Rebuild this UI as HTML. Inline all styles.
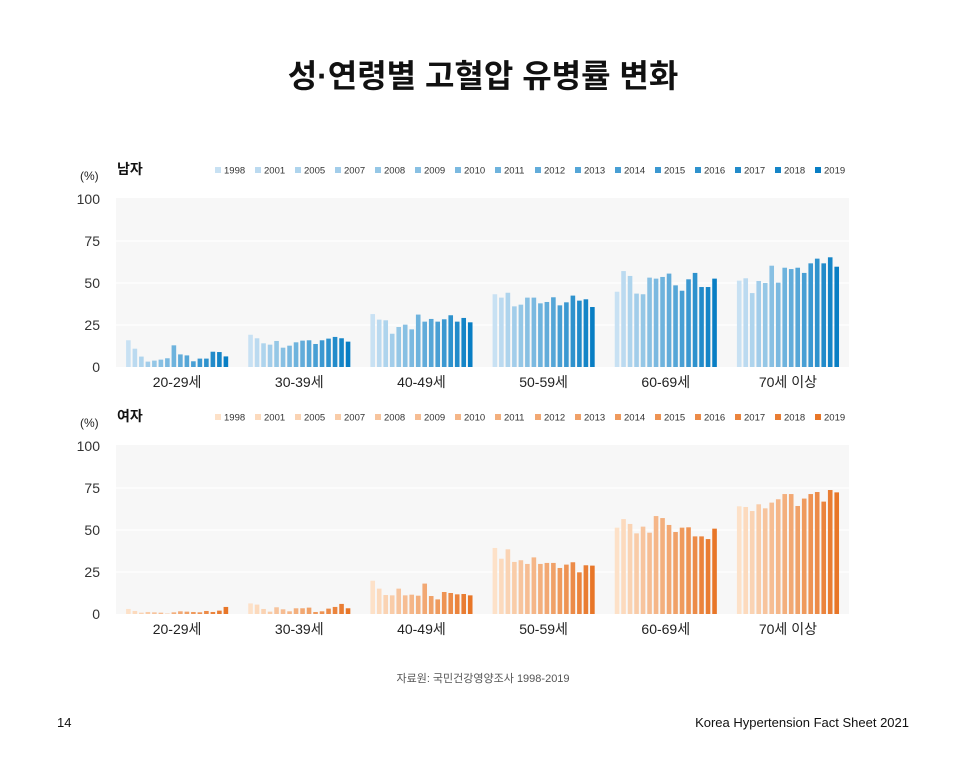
<!DOCTYPE html>
<html><head><meta charset="utf-8">
<style>
body{margin:0;background:#fff;}
svg text{font-family:"Liberation Sans","Noto Sans CJK KR",sans-serif;}
</style></head>
<body>
<svg id="chart" width="966" height="765" xmlns="http://www.w3.org/2000/svg">
<text x="483" y="87" text-anchor="middle" font-size="32" font-weight="bold" fill="#111">성·연령별 고혈압 유병률 변화</text>
<text x="483" y="682" text-anchor="middle" font-size="11" fill="#555">자료원: 국민건강영양조사 1998-2019</text>
<text x="57" y="727" font-size="13" fill="#111">14</text>
<text x="909" y="727" text-anchor="end" font-size="13" fill="#111">Korea Hypertension Fact Sheet 2021</text>
</svg>
<script>
const years=["1998","2001","2005","2007","2008","2009","2010","2011","2012","2013","2014","2015","2016","2017","2018","2019"];
const ageGroups=["20-29세","30-39세","40-49세","50-59세","60-69세","70세 이상"];
const yTicks=[0,25,50,75,100];
const male20=[15.9,10.9,6.2,3.2,3.8,4.4,5.2,12.9,7.5,6.9,3.4,5,5,9.1,8.9,6.3];
const male30=[19.2,17.1,14.1,13.3,15.5,11.5,12.7,14.7,15.7,15.9,13.7,15.9,16.9,17.9,17.1,15.1];
const male40=[31.5,28.2,27.8,19.8,23.8,25.2,22.4,31.2,27,28.6,27,28.4,30.8,27,29.2,26.6];
const male50=[43.3,41.3,44.2,36.1,37.1,41.3,41.3,37.9,38.7,41.5,36.7,38.5,42.5,39.5,40.3,35.7];
const male60=[44.8,57.1,54.2,43.7,43.3,53.2,52.6,53.6,55.6,48.6,45.4,52.2,56,47.6,47.6,52.6];
const male70=[51.4,52.8,44,51.2,50,60.3,50.2,59.1,58.3,59.1,56,61.7,64.5,61.7,65.3,59.7];
const female20=[3,1.8,0.8,1.2,1,0.8,0.2,1,1.6,1.4,1.2,1,1.8,1.2,2,4.2];
const female30=[6.3,5.6,3,1.4,4,2.8,1.6,3.4,3.4,3.8,1.2,1.6,3.2,4.2,6,3.4];
const female40=[19.8,15.1,11.3,11.1,15.1,11.1,11.5,10.9,18.1,10.7,8.7,13.1,12.5,11.7,11.9,11.1];
const female50=[39.3,32.9,38.5,31,32,29.8,33.7,29.8,30.4,30.4,27.4,29.4,30.8,24.8,29,28.8];
const female60=[51.4,56.5,53.6,48,52,48.4,58.3,57.1,53,48.8,51.4,51.6,46.2,46.2,44.6,50.8];
const female70=[64.1,63.7,61.3,65.3,62.9,66.3,68.3,71.4,71.4,64.3,68.7,71.4,72.6,66.9,73.8,72.4];
const maleData=[male20,male30,male40,male50,male60,male70];
const femaleData=[female20,female30,female40,female50,female60,female70];

const NS="http://www.w3.org/2000/svg";
const svg=document.getElementById('chart');
function mk(tag,attrs,parent){const e=document.createElementNS(NS,tag);for(const k in attrs)e.setAttribute(k,attrs[k]);(parent||svg).appendChild(e);return e;}
function lerp(a,b,t){return Math.round(a+(b-a)*t);}
function col(c0,c1,i){const t=i/15;return `rgb(${lerp(c0[0],c1[0],t)},${lerp(c0[1],c1[1],t)},${lerp(c0[2],c1[2],t)})`;}

function panel(opt){
  const g=mk('g',{});
  
  
  const x0=116,x1=849,yTop=opt.y0-168,base=opt.y0;
  const yS=v=>base-v*1.68;
  const bg=mk('rect',{x:x0,y:yTop-1,width:x1-x0,height:169,fill:'#f7f7f7'},g);
  
  
  yTicks.forEach(t=>{
    if(t>0&&t<100){const l=mk('line',{x1:x0,x2:x1,y1:yS(t),y2:yS(t),stroke:'#fff','stroke-width':1.2},g);
      
      }
    const tx=mk('text',{x:100,y:yS(t)+5,'text-anchor':'end','font-size':14,fill:'#333'},g);
    tx.textContent=t;
    
    
  });
  const u=mk('text',{x:80,y:yTop-19,'font-size':12,fill:'#222'},g);u.textContent='(%)';
  
  
  const ti=mk('text',{x:117,y:yTop-25,'font-size':14,'font-weight':'bold',fill:'#111'},g);ti.textContent=opt.title;
  
  
  years.forEach((yr,i)=>{
    const lx=215+i*40,ly=yTop-26;
    const s=mk('rect',{x:lx,y:ly-6,width:6,height:6,fill:col(opt.c0,opt.c1,i)},g);
    
    
    const t=mk('text',{x:lx+9,y:ly+0.5,'font-size':9.5,fill:'#333'},g);t.textContent=yr;
    
    
  });
  const gw=(x1-x0)/ageGroups.length;
  ageGroups.forEach((ag,gi)=>{
    const cx=x0+gw*(gi+0.4)+gw*0.1;
    const start=cx-52+1;
    opt.data[gi].forEach((v,i)=>{
      const b=mk('rect',{x:start+i*6.5,y:yS(v),width:4.6,height:base-yS(v),fill:col(opt.c0,opt.c1,i)},g);
      
      
    });
    const t=mk('text',{x:cx,y:base+20,'text-anchor':'middle','font-size':14,fill:'#222'},g);t.textContent=ag;
    
    
  });
}
panel({name:'male',title:'남자',y0:367,data:maleData,c0:[200,225,243],c1:[8,126,196]});
panel({name:'female',title:'여자',y0:614,data:femaleData,c0:[253,225,200],c1:[232,118,40]});
</script>
</body></html>
